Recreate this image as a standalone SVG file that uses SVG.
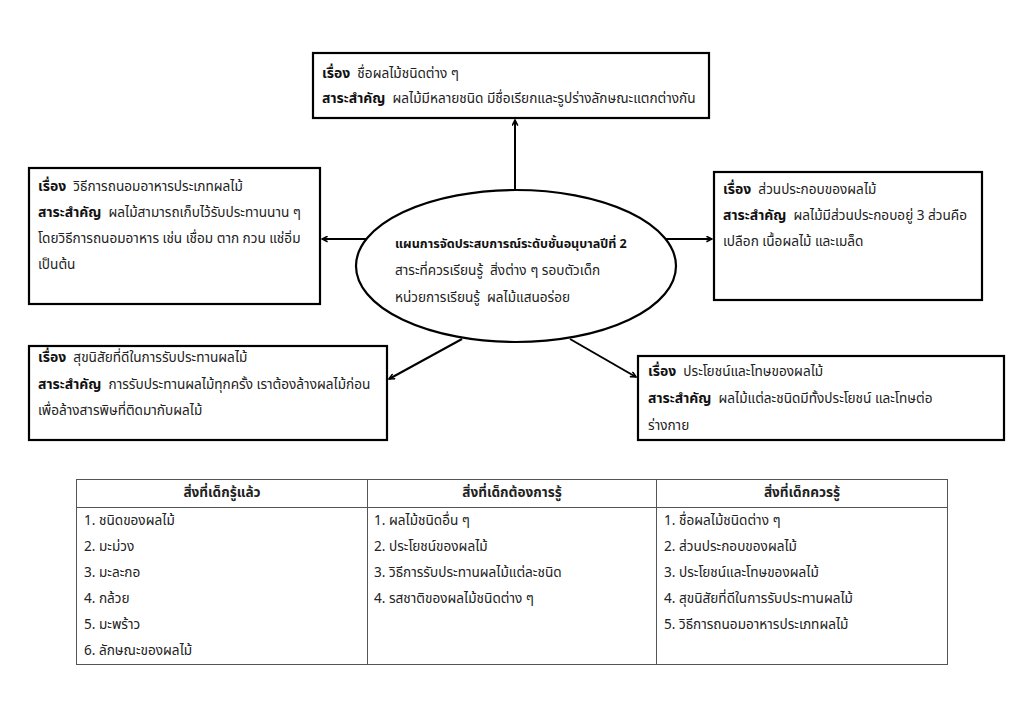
<svg xmlns="http://www.w3.org/2000/svg" width="1024" height="719" viewBox="0 0 1024 719">
<style>
text{font-family:"Noto Sans Thai","DejaVu Sans","Noto Sans",sans-serif;font-size:13.6px;fill:#222;white-space:pre}
.b{font-weight:bold;fill:#111;font-size:14px}
.eb{font-weight:bold;fill:#111;font-size:12.6px}
.box{fill:#fff;stroke:#000;stroke-width:2.2}
.con{stroke:#000;stroke-width:2;fill:none;marker-end:url(#ah)}
.tl{stroke:#555;stroke-width:1;fill:none}
.h{text-anchor:middle;font-weight:bold;font-size:13.6px}
</style>
<defs>
<marker id="ah" viewBox="0 0 10 10" refX="9" refY="5" markerWidth="7" markerHeight="7" orient="auto" markerUnits="userSpaceOnUse"><path d="M1,1 L9,5 L1,9" fill="none" stroke="#000" stroke-width="2.2"/></marker>
</defs>
<rect width="1024" height="719" fill="#fff"/>
<g id="connectors">
<line class="con" x1="515" y1="190" x2="515" y2="120"/>
<line class="con" x1="367" y1="239" x2="322" y2="239"/>
<line class="con" x1="665" y1="239" x2="712" y2="239"/>
<line class="con" x1="462" y1="339" x2="389" y2="379"/>
<line class="con" x1="570" y1="339" x2="636" y2="377"/>
</g>
<g id="center">
<ellipse cx="516" cy="266" rx="160" ry="76" fill="#fff" stroke="#000" stroke-width="2.2"/>
<text x="395" y="248" class="eb">แผนการจัดประสบการณ์ระดับชั้นอนุบาลปีที่ 2</text>
<text x="395" y="275">สาระที่ควรเรียนรู้  สิ่งต่าง ๆ รอบตัวเด็ก</text>
<text x="395" y="302">หน่วยการเรียนรู้  ผลไม้แสนอร่อย</text>
</g>
<g id="top">
<rect class="box" x="313" y="53" width="396" height="65"/>
<text x="322" y="78"><tspan class="b">เรื่อง</tspan>  ชื่อผลไม้ชนิดต่าง ๆ</text>
<text x="322" y="103"><tspan class="b">สาระสำคัญ</tspan>  ผลไม้มีหลายชนิด มีชื่อเรียกและรูปร่างลักษณะแตกต่างกัน</text>
</g>
<g id="left">
<rect class="box" x="29" y="168" width="291" height="136"/>
<text x="38" y="191"><tspan class="b">เรื่อง</tspan>  วิธีการถนอมอาหารประเภทผลไม้</text>
<text x="38" y="217"><tspan class="b">สาระสำคัญ</tspan>  ผลไม้สามารถเก็บไว้รับประทานนาน ๆ</text>
<text x="38" y="243">โดยวิธีการถนอมอาหาร เช่น เชื่อม ตาก กวน แช่อิ่ม</text>
<text x="38" y="269">เป็นต้น</text>
</g>
<g id="right">
<rect class="box" x="714" y="172" width="268" height="128"/>
<text x="723" y="194"><tspan class="b">เรื่อง</tspan>  ส่วนประกอบของผลไม้</text>
<text x="723" y="220"><tspan class="b">สาระสำคัญ</tspan>  ผลไม้มีส่วนประกอบอยู่ 3 ส่วนคือ</text>
<text x="723" y="246">เปลือก เนื้อผลไม้ และเมล็ด</text>
</g>
<g id="bottomleft">
<rect class="box" x="29" y="346" width="358" height="94"/>
<text x="38" y="362"><tspan class="b">เรื่อง</tspan>  สุขนิสัยที่ดีในการรับประทานผลไม้</text>
<text x="38" y="389"><tspan class="b">สาระสำคัญ</tspan>  การรับประทานผลไม้ทุกครั้ง เราต้องล้างผลไม้ก่อน</text>
<text x="38" y="415">เพื่อล้างสารพิษที่ติดมากับผลไม้</text>
</g>
<g id="bottomright">
<rect class="box" x="638" y="356" width="366" height="84"/>
<text x="648" y="376"><tspan class="b">เรื่อง</tspan>  ประโยชน์และโทษของผลไม้</text>
<text x="648" y="403"><tspan class="b">สาระสำคัญ</tspan>  ผลไม้แต่ละชนิดมีทั้งประโยชน์ และโทษต่อ</text>
<text x="648" y="430">ร่างกาย</text>
</g>
<g id="table">
<rect class="tl" x="76.5" y="479.5" width="871" height="185"/>
<line class="tl" x1="76" y1="507.5" x2="947" y2="507.5"/>
<line class="tl" x1="367.5" y1="479" x2="367.5" y2="664"/>
<line class="tl" x1="656.5" y1="479" x2="656.5" y2="664"/>
<text x="222" y="497" class="h">สิ่งที่เด็กรู้แล้ว</text>
<text x="512" y="497" class="h">สิ่งที่เด็กต้องการรู้</text>
<text x="802" y="497" class="h">สิ่งที่เด็กควรรู้</text>
<text x="84" y="525">1. ชนิดของผลไม้</text>
<text x="84" y="551">2. มะม่วง</text>
<text x="84" y="577">3. มะละกอ</text>
<text x="84" y="603">4. กล้วย</text>
<text x="84" y="629">5. มะพร้าว</text>
<text x="84" y="655">6. ลักษณะของผลไม้</text>
<text x="374" y="525">1. ผลไม้ชนิดอื่น ๆ</text>
<text x="374" y="551">2. ประโยชน์ของผลไม้</text>
<text x="374" y="577">3. วิธีการรับประทานผลไม้แต่ละชนิด</text>
<text x="374" y="603">4. รสชาติของผลไม้ชนิดต่าง ๆ</text>
<text x="664" y="525">1. ชื่อผลไม้ชนิดต่าง ๆ</text>
<text x="664" y="551">2. ส่วนประกอบของผลไม้</text>
<text x="664" y="577">3. ประโยชน์และโทษของผลไม้</text>
<text x="664" y="603">4. สุขนิสัยที่ดีในการรับประทานผลไม้</text>
<text x="664" y="629">5. วิธีการถนอมอาหารประเภทผลไม้</text>
</g>
</svg>
